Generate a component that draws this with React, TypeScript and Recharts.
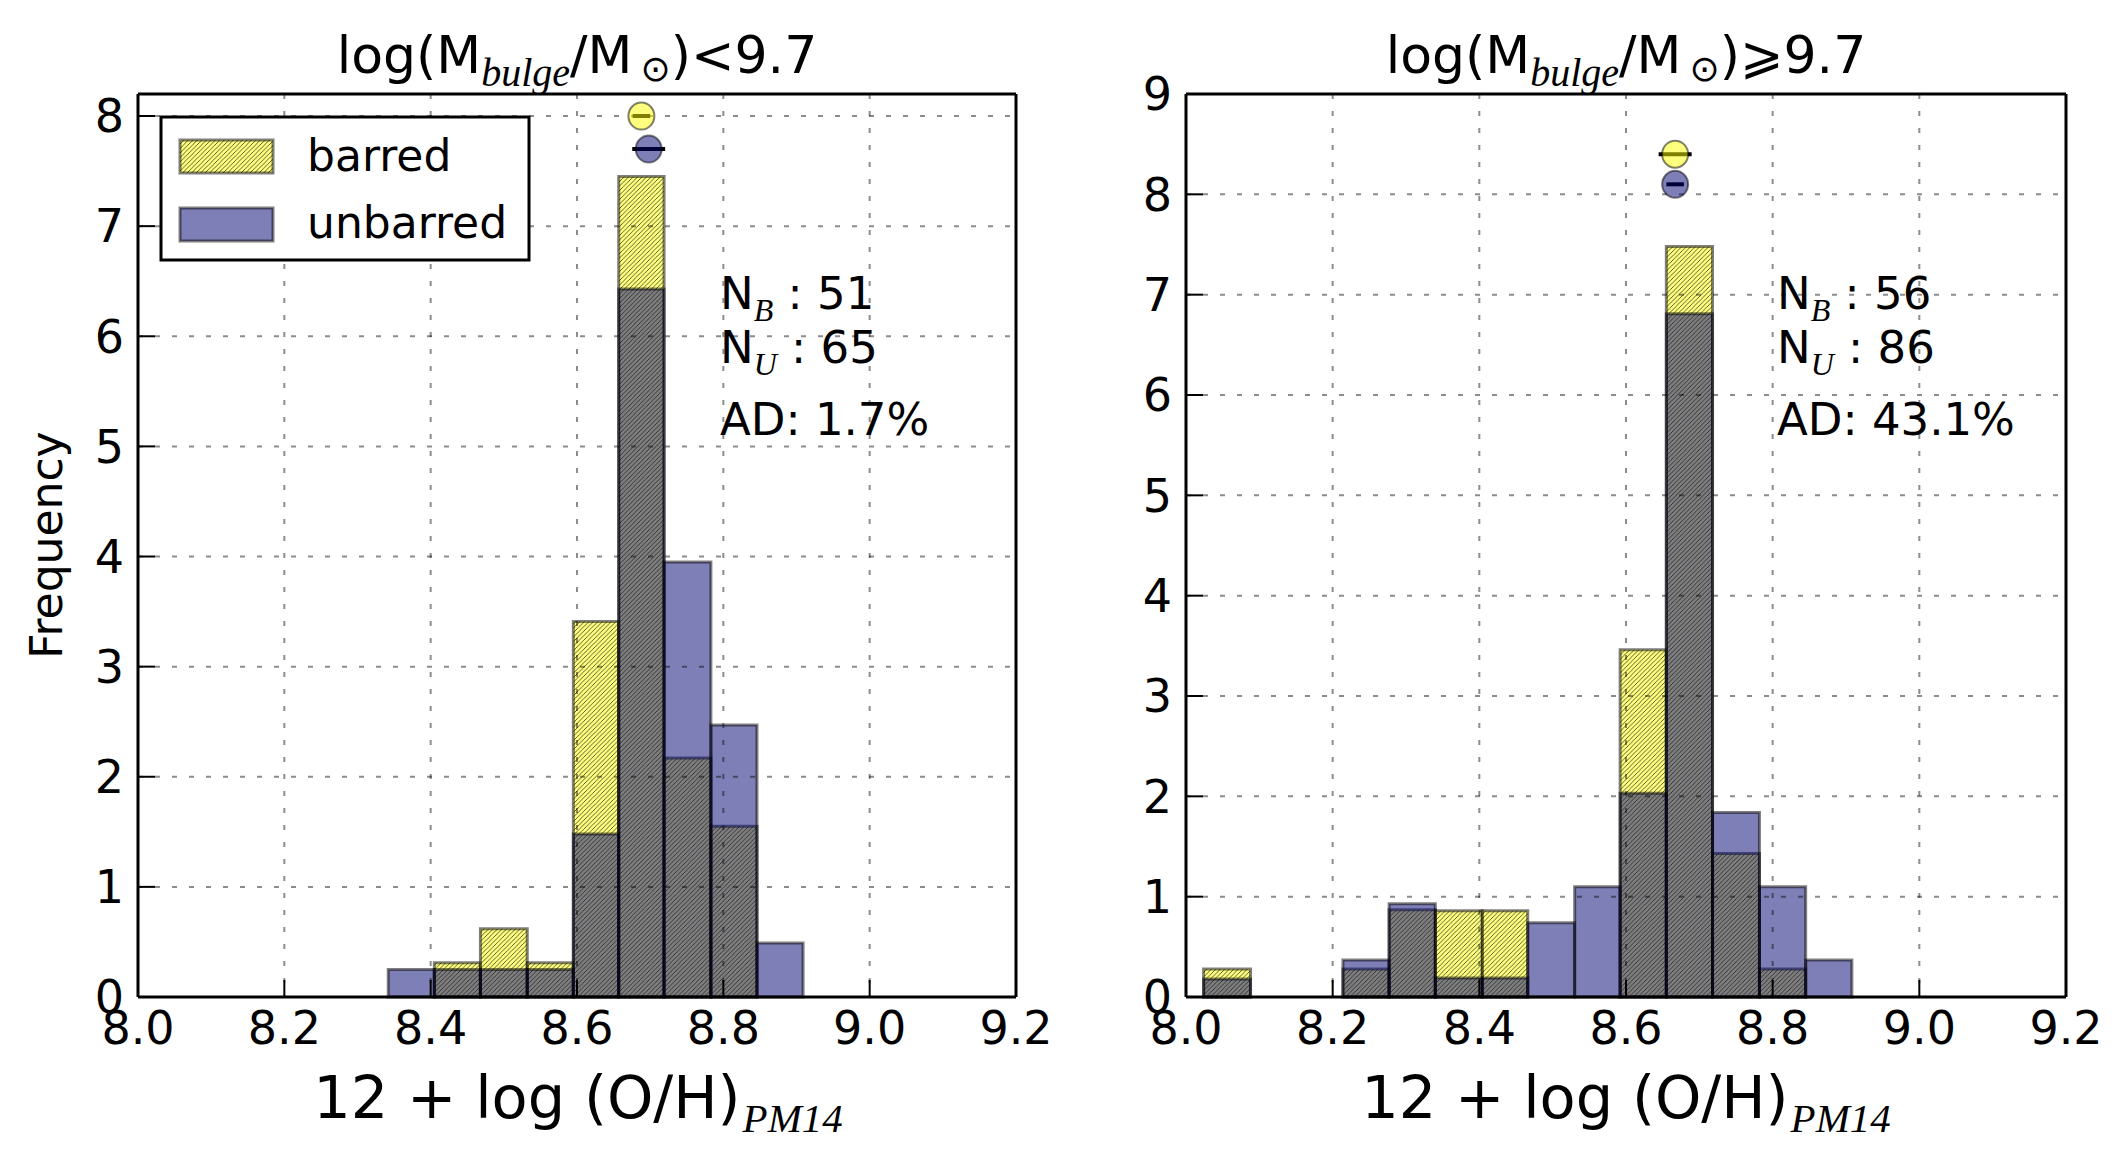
import {
  ComposedChart,
  XAxis,
  YAxis,
  CartesianGrid,
  ReferenceArea,
  Scatter,
  ErrorBar,
} from 'recharts';

// bin edges (12 + log O/H)
const leftEdges = [8.342, 8.405, 8.468, 8.532, 8.595, 8.657, 8.719, 8.783, 8.846, 8.909];
const rightEdges = [8.024, 8.088, 8.151, 8.214, 8.277, 8.340, 8.404, 8.466, 8.530, 8.592, 8.655, 8.718, 8.782, 8.845, 8.908];

// normalised frequencies per bin
const barredLeft = [0, 0.31, 0.62, 0.31, 3.41, 7.45, 2.17, 1.55, 0];
const unbarredLeft = [0.25, 0.25, 0.25, 0.25, 1.48, 6.43, 3.95, 2.47, 0.49];
const barredRight = [0.28, 0, 0, 0.28, 0.87, 0.86, 0.86, 0, 0, 3.46, 7.48, 1.43, 0.28, 0];
const unbarredRight = [0.18, 0, 0, 0.37, 0.93, 0.19, 0.19, 0.74, 1.10, 2.03, 6.81, 1.84, 1.10, 0.37];

// mean markers with horizontal error
const meansLeftBarred = [{ x: 8.688, y: 8.0, err: 0.012 }];
const meansLeftUnbarred = [{ x: 8.698, y: 7.7, err: 0.0225 }];
const meansRightBarred = [{ x: 8.667, y: 8.4, err: 0.0225 }];
const meansRightUnbarred = [{ x: 8.667, y: 8.1, err: 0.012 }];

const xTicks = [8.0, 8.2, 8.4, 8.6, 8.8, 9.0, 9.2];
const yTicksLeft = [0, 1, 2, 3, 4, 5, 6, 7, 8];
const yTicksRight = [0, 1, 2, 3, 4, 5, 6, 7, 8, 9];

const nBarred = [51, 56];
const nUnbarred = [65, 86];
const adValues = ['1.7%', '43.1%'];

const SANS = 'DejaVu Sans';
const MATH = 'Liberation Serif';
const NAVY = '#000070';

const tickStyle = { fontFamily: SANS, fontSize: 46, fill: '#000' };
const frame = { stroke: '#000', strokeWidth: 3 };
const tickLn = { stroke: '#000', strokeWidth: 2 };

function Marker(props: any, fill: string) {
  return (
    <ellipse
      cx={props.cx}
      cy={props.cy}
      rx={13}
      ry={13.5}
      fill={fill}
      fillOpacity={0.5}
      stroke="#000"
      strokeOpacity={0.5}
      strokeWidth={2}
    />
  );
}

interface PanelProps {
  edges: number[];
  barred: number[];
  unbarred: number[];
  mb: { x: number; y: number; err: number }[];
  mu: { x: number; y: number; err: number }[];
  yMax: number;
  yTicks: number[];
  width: number;
  margin: { top: number; right: number; bottom: number; left: number };
}

function Panel({ edges, barred, unbarred, mb, mu, yMax, yTicks, width, margin }: PanelProps) {
  return (
    <ComposedChart width={width} height={1163} margin={margin}>
      <XAxis
        type="number"
        dataKey="x"
        domain={[8.0, 9.2]}
        ticks={xTicks}
        allowDataOverflow
        tickFormatter={(v: number) => v.toFixed(1)}
        tick={tickStyle}
        tickSize={-17}
        tickMargin={31}
        height={60}
        axisLine={frame}
        tickLine={tickLn}
      />
      <XAxis
        xAxisId="top"
        orientation="top"
        type="number"
        domain={[8.0, 9.2]}
        ticks={xTicks}
        allowDataOverflow
        tick={false}
        tickSize={-17}
        height={1}
        axisLine={frame}
        tickLine={tickLn}
      />
      <YAxis
        type="number"
        dataKey="y"
        domain={[0, yMax]}
        ticks={yTicks}
        allowDataOverflow
        tick={tickStyle}
        tickSize={-17}
        tickMargin={31}
        width={80}
        axisLine={frame}
        tickLine={tickLn}
      />
      <YAxis
        yAxisId="r"
        orientation="right"
        type="number"
        domain={[0, yMax]}
        ticks={yTicks}
        allowDataOverflow
        tick={false}
        tickSize={-17}
        width={1}
        axisLine={frame}
        tickLine={tickLn}
      />
      {barred.map((v, i) =>
        v > 0 ? (
          <ReferenceArea
            key={'b' + i}
            x1={edges[i]}
            x2={edges[i + 1]}
            y1={0}
            y2={v}
            fill="url(#hatch)"
            fillOpacity={1}
            stroke="#000"
            strokeOpacity={0.5}
            strokeWidth={3}
            ifOverflow="visible"
          />
        ) : null
      )}
      {unbarred.map((v, i) =>
        v > 0 ? (
          <ReferenceArea
            key={'u' + i}
            x1={edges[i]}
            x2={edges[i + 1]}
            y1={0}
            y2={v}
            fill={NAVY}
            fillOpacity={0.5}
            stroke="#000"
            strokeOpacity={0.5}
            strokeWidth={3}
            ifOverflow="visible"
          />
        ) : null
      )}
      <CartesianGrid
        stroke="#000"
        strokeOpacity={0.45}
        strokeWidth={2}
        strokeDasharray="5 12"
        zIndex={550}
      />
      <Scatter
        data={mb}
        isAnimationActive={false}
        shape={(p: any) => Marker(p, '#ffff00')}
        zIndex={600}
      >
        <ErrorBar dataKey="err" direction="x" width={0} stroke="#000" strokeWidth={4} isAnimationActive={false} />
      </Scatter>
      <Scatter
        data={mu}
        isAnimationActive={false}
        shape={(p: any) => Marker(p, NAVY)}
        zIndex={600}
      >
        <ErrorBar dataKey="err" direction="x" width={0} stroke="#000" strokeWidth={4} isAnimationActive={false} />
      </Scatter>
    </ComposedChart>
  );
}

function Title({ x, sym }: { x: number; sym: string }) {
  return (
    <text x={x} y={73} textAnchor="middle" fontFamily={SANS} fontSize={52} fill="#000">
      log(M
      <tspan fontFamily={MATH} fontStyle="italic" fontSize={40} dy={13}>bulge</tspan>
      <tspan dy={-13}>/M</tspan>
      <tspan fontSize={36} dx={8} dy={8}>⊙</tspan>
      <tspan dy={-8}>){sym}9.7</tspan>
    </text>
  );
}

function XLabel({ x }: { x: number }) {
  return (
    <text x={x} y={1118} textAnchor="middle" fontFamily={SANS} fontSize={59} fill="#000">
      12 + log (O/H)
      <tspan fontFamily={MATH} fontStyle="italic" fontSize={41} dx={2} dy={14}>PM14</tspan>
    </text>
  );
}

function Stats({ x, i }: { x: number; i: number }) {
  const sub = { fontFamily: MATH, fontStyle: 'italic', fontSize: 32 } as const;
  return (
    <g fontFamily={SANS} fontSize={45} fill="#000">
      <text x={x} y={309}>
        N<tspan {...sub} dy={12}>B</tspan>
        <tspan dy={-12}> : {nBarred[i]}</tspan>
      </text>
      <text x={x} y={363}>
        N<tspan {...sub} dy={12}>U</tspan>
        <tspan dy={-12}> : {nUnbarred[i]}</tspan>
      </text>
      <text x={x} y={435}>AD: {adValues[i]}</text>
    </g>
  );
}

export default function App() {
  return (
    <div style={{ position: 'absolute', left: 0, top: 0, width: 2123, height: 1163, background: '#fff' }}>
      <svg width={0} height={0} style={{ position: 'absolute' }}>
        <defs>
          <pattern id="hatch" patternUnits="userSpaceOnUse" width={4.5} height={4.5}>
            <rect width={4.5} height={4.5} fill="#ffff00" fillOpacity={0.5} />
            <path
              d="M-1,1 l2,-2 M0,4.5 l4.5,-4.5 M3.5,5.5 l2,-2"
              stroke="#000"
              strokeOpacity={0.7}
              strokeWidth={0.9}
            />
          </pattern>
        </defs>
      </svg>
      <div style={{ position: 'absolute', left: 0, top: 0 }}>
        <Panel
          edges={leftEdges}
          barred={barredLeft}
          unbarred={unbarredLeft}
          mb={meansLeftBarred}
          mu={meansLeftUnbarred}
          yMax={8.2}
          yTicks={yTicksLeft}
          width={1060}
          margin={{ top: 93, right: 43, bottom: 106, left: 58 }}
        />
      </div>
      <div style={{ position: 'absolute', left: 1060, top: 0 }}>
        <Panel
          edges={rightEdges}
          barred={barredRight}
          unbarred={unbarredRight}
          mb={meansRightBarred}
          mu={meansRightUnbarred}
          yMax={9}
          yTicks={yTicksRight}
          width={1063}
          margin={{ top: 93, right: 56, bottom: 106, left: 46 }}
        />
      </div>
      <svg
        width={2123}
        height={1163}
        style={{ position: 'absolute', left: 0, top: 0, pointerEvents: 'none' }}
      >
        <Title x={577} sym="<" />
        <Title x={1626} sym="⩾" />
        <XLabel x={578} />
        <XLabel x={1626} />
        <text
          x={62}
          y={545}
          transform="rotate(-90 62 545)"
          textAnchor="middle"
          fontFamily={SANS}
          fontSize={44}
          fill="#000"
        >
          Frequency
        </text>
        <Stats x={720} i={0} />
        <Stats x={1777} i={1} />
        {/* legend */}
        <rect x={161} y={117} width={368} height={143} fill="#fff" stroke="#000" strokeWidth={3} />
        <rect x={180} y={140} width={93} height={33} fill="url(#hatch)" stroke="#000" strokeOpacity={0.5} strokeWidth={3} />
        <rect x={180} y={208} width={93} height={33} fill={NAVY} fillOpacity={0.5} stroke="#000" strokeOpacity={0.5} strokeWidth={3} />
        <text x={307} y={171} fontFamily={SANS} fontSize={44} fill="#000">barred</text>
        <text x={307} y={238} fontFamily={SANS} fontSize={44} fill="#000">unbarred</text>
      </svg>
    </div>
  );
}
